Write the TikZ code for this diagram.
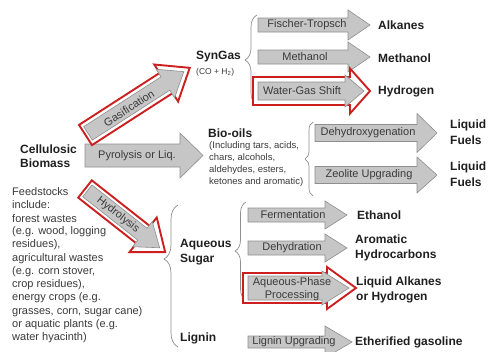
\documentclass[tikz,border=0pt]{standalone}
\usepackage{fontspec}
\setmainfont{Liberation Sans}
\usepackage{xcolor}
\usepackage{tikz}
\usetikzlibrary{decorations.pathreplacing}

\definecolor{boxgray}{HTML}{C6C6C6}
\definecolor{edgegray}{HTML}{8E8E8E}
\definecolor{hired}{HTML}{CC1F1F}
\definecolor{txtgray}{HTML}{3A3A3A}

\begin{document}
\begin{tikzpicture}[x=1pt, y=-1pt,
    boxarrow/.style={fill=boxgray, draw=edgegray, line width=0.6pt},
    redarrow/.style={fill=white, draw=hired, line width=1.9pt},
    brc/.style={draw=edgegray, line width=0.7pt, decorate, decoration={brace, amplitude=#1}},
    boxtxt/.style={font=\fontsize{11}{12.5}\selectfont, text=txtgray, inner sep=0pt, align=center},
    prod/.style={font=\fontsize{12}{14.5}\selectfont\bfseries, text=black!88, anchor=west, inner sep=0pt, align=left},
    note/.style={font=\fontsize{9.5}{12}\selectfont, text=txtgray, anchor=west, inner sep=0pt, align=left}]

    \clip (0,0) rectangle (489,351);

    % braces
    \draw[brc=12pt] (257,105) -- (257,15);
    \draw[brc=8pt] (313,196) -- (313,122);
    \draw[brc=14pt, decoration={aspect=0.62}] (178,347) -- (178,205);
    \draw[brc=11pt] (246,300) -- (246,202);

    % block arrows (red ones first, gray one inside)
    \foreach \xa/\xb/\xt/\yc/\hs/\hh/\st in {258/348/370/25/7/15/boxarrow, 258/348/370/57/7/15/boxarrow,
        253/350/370/91/14/22.5/redarrow, 258/345/364/91/9/16/boxarrow,
        315/417/437/133/8.5/19.5/boxarrow, 315/417/437/175/8.5/18/boxarrow,
        248/325/347/215/7/14/boxarrow, 248/325/347/248/7/14/boxarrow,
        243/327/356/288/15/21/redarrow, 248/322/349/288/12/17/boxarrow,
        248/325/352/342/6/16/boxarrow, 85/180/203/155.5/11.5/22.5/boxarrow}
        \draw[\st] (\xa,\yc-\hs) -- (\xb,\yc-\hs) -- (\xb,\yc-\hh) -- (\xt,\yc)
            -- (\xb,\yc+\hh) -- (\xb,\yc+\hs) -- (\xa,\yc+\hs) -- cycle;

    \begin{scope}[shift={(85.5,135)}, rotate=32.8]
        \draw[redarrow] (0,-12) -- (96,-12) -- (96,-22) -- (124,0) -- (96,22) -- (96,12) -- (0,12) -- cycle;
        \draw[boxarrow] (3,-8) -- (95,-8) -- (95,-17) -- (117,0) -- (95,17) -- (95,8) -- (3,8) -- cycle;
        \node[boxtxt, rotate=32.8] (gas) at (51,1) {Gasification};
    \end{scope}
    \begin{scope}[shift={(85,189)}, rotate=-38.2]
        \draw[redarrow] (0,-11) -- (74,-11) -- (74,-22) -- (102,0) -- (74,22) -- (74,11) -- (0,11) -- cycle;
        \draw[boxarrow] (3,-7.5) -- (73,-7.5) -- (73,-16) -- (95,0) -- (73,16) -- (73,7.5) -- (3,7.5) -- cycle;
        \node[boxtxt, rotate=-38.2] (hydro) at (42,0) {Hydrolysis};
    \end{scope}

    % texts on the arrows
    \node[boxtxt] (pyro) at (137,155.5) {Pyrolysis or Liq.};
    \node[boxtxt] (ft) at (307,25) {Fischer-Tropsch};
    \node[boxtxt] (meth) at (305,57) {Methanol};
    \node[boxtxt] (wgs) at (302,91) {Water-Gas Shift};
    \node[boxtxt] (dehydrox) at (368,133) {Dehydroxygenation};
    \node[boxtxt] (zeol) at (369,175) {Zeolite Upgrading};
    \node[boxtxt] (ferm) at (293,215) {Fermentation};
    \node[boxtxt] (dehyd) at (292,248) {Dehydration};
    \node[boxtxt] (app) at (292,289) {Aqueous-Phase\\Processing};
    \node[boxtxt] (ligup) at (294,342) {Lignin Upgrading};

    % feedstock and intermediates
    \node[prod] (bio) at (20,156) {Cellulosic\\Biomass};
    \foreach \ln [count=\i from 0] in {Feedstocks, include:, forest wastes, {(e.g. wood, logging},
        {residues),}, agricultural wastes, {(e.g. corn stover,}, {crop residues),}, {energy crops (e.g.},
        {grasses, corn, sugar cane)}, {or aquatic plants (e.g.}, water hyacinth)}
        \node[anchor=west, inner sep=0pt, text=txtgray, font=\fontsize{11}{13.3}\selectfont]
            (feed\i) at (12,191.7+13.3*\i) {\ln};
    \node[prod] (syn) at (196,57) {SynGas};
    \node[note, font=\fontsize{8.5}{10}\selectfont] (synsub) at (196,72) {(CO + H\textsubscript{2})};
    \node[prod] (oil) at (208,133) {Bio-oils};
    \node[note] (oilsub) at (209,164) {(Including tars, acids,\\chars, alcohols,\\aldehydes, esters,\\ketones and aromatic)};
    \node[prod] (sugar) at (180,252) {Aqueous\\Sugar};
    \node[prod] (lignin) at (180,338) {Lignin};

    % products
    \node[prod] (alk) at (378,25) {Alkanes};
    \node[prod] (methp) at (378,58) {Methanol};
    \node[prod] (hyd) at (378,91) {Hydrogen};
    \node[prod] (fuela) at (450,132) {Liquid\\[1.5pt]Fuels};
    \node[prod] (fuelb) at (450,174) {Liquid\\[1.5pt]Fuels};
    \node[prod] (eth) at (357,215) {Ethanol};
    \node[prod] (arom) at (355,248) {Aromatic\\Hydrocarbons};
    \node[prod] (liqalk) at (356,290) {Liquid Alkanes\\or Hydrogen};
    \node[prod] (ether) at (355,342) {Etherified gasoline};
\end{tikzpicture}
\end{document}
